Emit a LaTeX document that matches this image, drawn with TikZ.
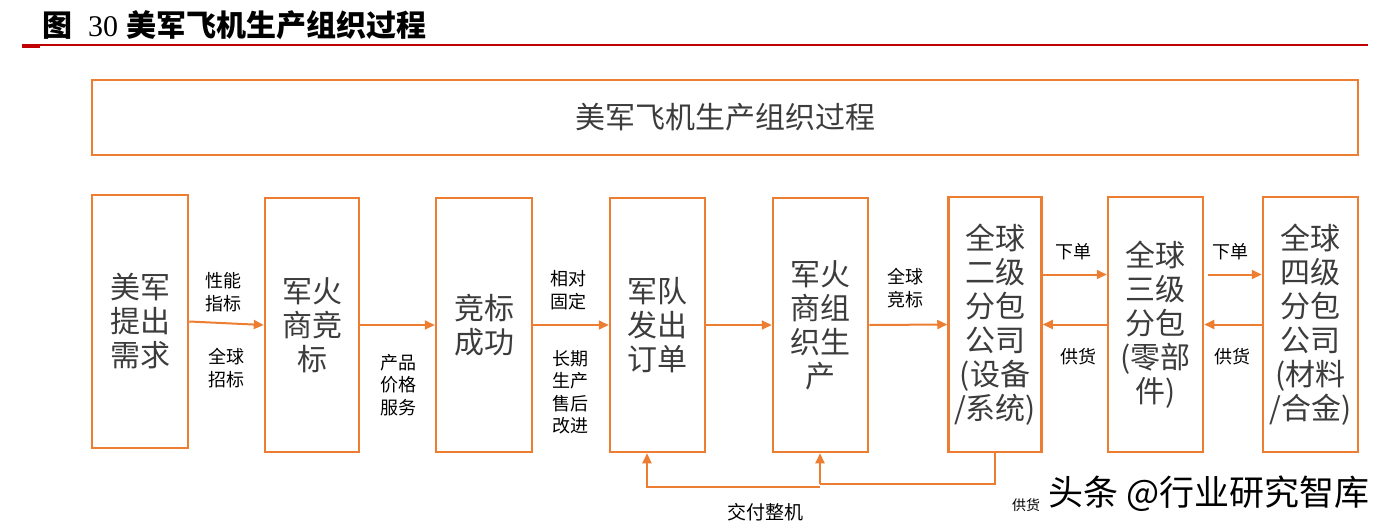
\documentclass[tikz,border=0pt]{standalone}
\usepackage{fontspec}
\newfontfamily\cjk{Noto Sans CJK SC}
\newfontfamily\numfont{Liberation Serif}
\usetikzlibrary{arrows.meta,calc}

\definecolor{frameorange}{HTML}{ED7D31}
\definecolor{textgray}{HTML}{3C3C3C}
\definecolor{rulered}{HTML}{C00000}

\newcommand{\bigtxt}{\cjk\fontsize{30}{34}\selectfont}
\newcommand{\smalltxt}{\cjk\fontsize{18}{22.5}\selectfont}

\begin{document}
\begin{tikzpicture}[x=1pt,y=-1pt,
  stage/.style={draw=frameorange,line width=2.5pt,text=textgray,align=center,
    font=\bigtxt,inner sep=0pt,minimum width=95pt,minimum height=254pt},
  flow/.style={draw=frameorange,line width=2pt,-{Triangle[length=10pt,width=9pt]}},
  wire/.style={draw=frameorange,line width=2pt},
  note/.style={text=black,align=center,font=\smalltxt,inner sep=0pt}]
\useasboundingbox (0,0) rectangle (1392,528);

% caption
\node[anchor=west,inner sep=0pt,font=\cjk\bfseries\fontsize{30}{32}\selectfont] (caption) at (42,25)
  {图\hspace{16pt}{\numfont\mdseries 30}\hspace{8pt}美军飞机生产组织过程};
\draw[rulered,line width=1.5pt] (22,45) -- (1368,45);
\draw[rulered,line width=3.5pt] (22,46) -- (40,46);

% title box
\node[stage,minimum width=1266pt,minimum height=75pt] (head) at (725,117.5) {美军飞机生产组织过程};

% stages
\node[stage,minimum width=96pt,minimum height=253pt] (need) at (140,321.5) {美军\\提出\\需求};
\node[stage,minimum width=94pt] (bid) at (312,325) {军火\\商竞\\标};
\node[stage,minimum width=96pt] (win) at (484,325) {竞标\\成功};
\node[stage] (order) at (657.5,325) {军队\\发出\\订单};
\node[stage] (make) at (820.5,325) {军火\\商组\\织生\\产};
\node[stage,minimum width=93pt,minimum height=255pt] (tier2) at (995,324.5) {全球\\二级\\分包\\公司\\(设备\\/系统)};
\node[stage,minimum height=255pt] (tier3) at (1155.5,324.5) {全球\\三级\\分包\\(零部\\件)};
\node[stage,minimum height=255pt] (tier4) at (1310.5,324.5) {全球\\四级\\分包\\公司\\(材料\\/合金)};

% main flow
\draw[flow] (need.east) -- (bid.west);
\draw[flow] (bid.east) -- (win.west);
\draw[flow] (win.east) -- (order.west);
\draw[flow] (order.east) -- (make.west);
\draw[flow] (make.east) -- (tier2.west);

\draw[flow] ([yshift=50pt]tier2.east) -- ([yshift=50pt]tier3.west);
\draw[flow] (tier3.west) -- (tier2.east);
\draw[flow] ([xshift=4pt,yshift=50pt]tier3.east) -- ([yshift=50pt]tier4.west);
\draw[flow] (tier4.west) -- (tier3.east);

% delivery back
\coordinate (turn6) at (995,484);
\coordinate (turn5) at (820,484);
\coordinate (turn4) at (647,487);
\draw[wire] (tier2.south) -- (turn6) -- (turn5);
\draw[flow] (turn5) -- (make.south -| turn5);
\draw[flow] (turn5 |- turn4) -- (turn4) -- (order.south -| turn4);

% labels
\node[note] (l1) at (223,292) {性能\\指标};
\node[note] (l2) at (226,368) {全球\\招标};
\node[note] (l3) at (398,385) {产品\\价格\\服务};
\node[note] (l4) at (568,290) {相对\\固定};
\node[note] (l5) at (570,392) {长期\\生产\\售后\\改进};
\node[note] (l6) at (905,288) {全球\\竞标};
\node[note] (l7) at (1073,252) {下单};
\node[note] (l8) at (1078,357) {供货};
\node[note] (l9) at (1230,252) {下单};
\node[note] (l10) at (1232,357) {供货};
\node[note,font=\cjk\fontsize{19}{22}\selectfont] (l11) at (765,512) {交付整机};
\node[note,font=\cjk\fontsize{14}{16}\selectfont] (l12) at (1026,505) {供货};

% watermark
\node[anchor=west,inner sep=0pt,font=\cjk\fontsize{35}{37}\selectfont] (mark) at (1048,494) {头条 @行业研究智库};

\end{tikzpicture}
\end{document}
